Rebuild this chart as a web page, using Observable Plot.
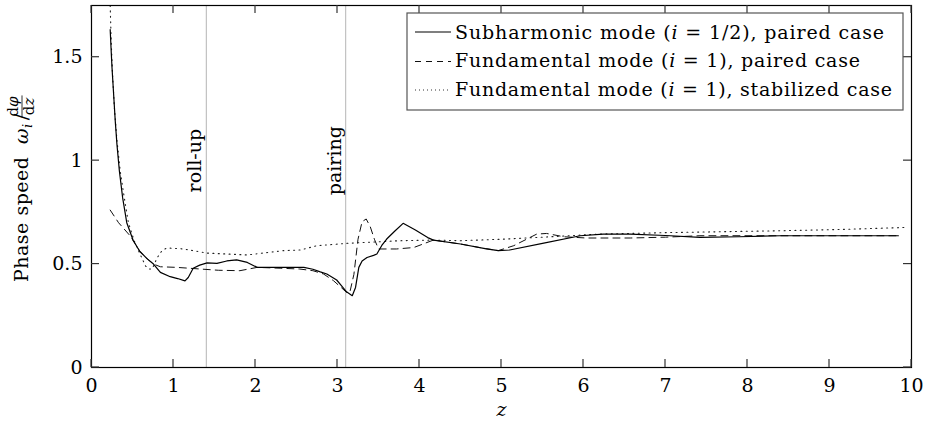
<!DOCTYPE html>
<html><head><meta charset="utf-8">
<script src="https://cdn.jsdelivr.net/npm/d3@7"></script>
<script src="https://cdn.jsdelivr.net/npm/@observablehq/plot@0.6"></script>
<style>body{margin:0;background:#fff;}</style>
</head><body><div id="chart"></div>
<script>
// Subharmonic mode (i = 1/2), paired case
const subZ = [0.228,0.24,0.25,0.27,0.29,0.31,0.34,0.38,0.43,0.51,0.59,0.68,0.756,0.84,0.96,1.05,1.14,1.18,1.24,1.32,1.41,1.53,1.65,1.77,1.90,2.02,2.34,2.59,2.70,2.79,2.87,2.99,3.05,3.11,3.18,3.22,3.26,3.30,3.36,3.44,3.48,3.54,3.60,3.70,3.80,3.95,4.10,4.17,4.50,4.80,4.96,5.10,5.50,5.96,6.24,6.57,7.0,7.42,7.9,8.4,9.0,9.84];
const subC = [1.633,1.53,1.45,1.32,1.19,1.08,0.95,0.82,0.70,0.613,0.561,0.525,0.50,0.46,0.439,0.43,0.419,0.435,0.480,0.495,0.506,0.503,0.515,0.52,0.508,0.484,0.484,0.484,0.475,0.462,0.452,0.423,0.395,0.366,0.347,0.387,0.484,0.515,0.532,0.542,0.549,0.59,0.621,0.66,0.697,0.665,0.628,0.616,0.597,0.575,0.565,0.568,0.60,0.637,0.645,0.645,0.638,0.629,0.632,0.637,0.637,0.637];
// Fundamental mode (i = 1), paired case
const funPZ = [0.228,0.33,0.47,0.53,0.59,0.68,0.756,0.84,1.04,1.33,1.55,1.81,2.02,2.30,2.54,2.70,2.83,2.95,3.05,3.11,3.15,3.20,3.25,3.30,3.35,3.40,3.45,3.50,3.72,3.93,4.17,4.50,4.80,4.96,5.15,5.43,5.55,5.76,6.04,6.57,7.0,7.42,8.4,9.84];
const funPC = [0.761,0.70,0.637,0.60,0.561,0.525,0.50,0.487,0.484,0.476,0.47,0.468,0.484,0.48,0.476,0.468,0.452,0.42,0.385,0.363,0.363,0.45,0.62,0.705,0.718,0.68,0.62,0.573,0.573,0.58,0.616,0.597,0.575,0.565,0.589,0.645,0.648,0.632,0.626,0.626,0.63,0.637,0.637,0.637];
// Fundamental mode (i = 1), stabilized case
const funSZ = [0.228,0.24,0.256,0.28,0.31,0.35,0.40,0.45,0.52,0.59,0.66,0.70,0.74,0.80,0.86,0.92,1.12,1.41,1.90,2.34,2.55,2.75,3.11,3.76,4.17,4.50,5.0,5.5,6.2,7.0,8.4,9.2,9.92];
const funSC = [1.75,1.58,1.42,1.25,1.10,0.95,0.82,0.70,0.613,0.55,0.49,0.476,0.476,0.53,0.565,0.578,0.573,0.553,0.544,0.565,0.568,0.589,0.60,0.613,0.616,0.613,0.62,0.63,0.645,0.652,0.661,0.668,0.677];

const xTicks = [0,1,2,3,4,5,6,7,8,9,10];
const yTicks = [0,0.5,1,1.5];
const yTickLabels = ["0","0.5","1","1.5"];
const events = [1.4, 3.1];
const eventLabels = ["roll-up", "pairing"];
const eventLabelY = 1.0;

const toRows = (zs, cs) => zs.map((z, i) => ({z, c: cs[i]}));
const sub = toRows(subZ, subC);
const funP = toRows(funPZ, funPC);
const funS = toRows(funSZ, funSC);

const W = 927, H = 421, mL = 91, mR = 16, mT = 5, mB = 54;
const xDom = [0, 10], yDom = [0, 1.75];
const tickLen = 8;

const svg = Plot.plot({
  width: W, height: H,
  marginLeft: mL, marginRight: mR, marginTop: mT, marginBottom: mB,
  style: {fontFamily: "DejaVu Serif", fontSize: "19px", background: "#fff", color: "#000"},
  x: {domain: xDom},
  y: {domain: yDom},
  marks: [
    Plot.ruleX(events, {x: d => d, stroke: "#b5b5b5", strokeWidth: 1}),
    Plot.text(events, {x: d => d, y: eventLabelY, text: (d, i) => eventLabels[i], rotate: -90, dx: -11, textAnchor: "middle", lineAnchor: "middle", fill: "#000", fontSize: 19}),
    Plot.line(funS, {x: "z", y: "c", stroke: "#222", strokeWidth: 1.1, strokeDasharray: "1,4.4"}),
    Plot.line(funP, {x: "z", y: "c", stroke: "#111", strokeWidth: 1, strokeDasharray: "7,5"}),
    Plot.line(sub, {x: "z", y: "c", stroke: "#000", strokeWidth: 1.2}),
    Plot.frame({stroke: "#000", strokeWidth: 1.2}),
    Plot.axisX({ticks: xTicks, tickSize: 0, tickPadding: 11, label: null, tickFormat: d => String(d), fill: "#000"}),
    Plot.axisY({ticks: yTicks, tickSize: 0, tickPadding: 9, label: null, tickFormat: (d, i) => yTickLabels[i], fill: "#000"}),
    Plot.text(["z"], {frameAnchor: "bottom", text: d => d, dy: 48, lineAnchor: "bottom", fontStyle: "italic", fill: "#000", fontSize: 19})
  ]
});
document.getElementById("chart").appendChild(svg);

const root = d3.select(svg);
// Inward tick marks on all four sides, placed with the plot's own scales
const xs = svg.scale("x"), ys = svg.scale("y");
const frameL = xs.apply(xDom[0]), frameR = xs.apply(xDom[1]);
const frameB = ys.apply(yDom[0]), frameT = ys.apply(yDom[1]);
const tg = root.append("g").attr("stroke", "#333").attr("stroke-width", 1.2);
xTicks.forEach(v => {
  const p = xs.apply(v);
  tg.append("line").attr("x1", p).attr("x2", p).attr("y1", frameB).attr("y2", frameB - tickLen);
  tg.append("line").attr("x1", p).attr("x2", p).attr("y1", frameT).attr("y2", frameT + tickLen);
});
yTicks.forEach(v => {
  const p = ys.apply(v);
  tg.append("line").attr("y1", p).attr("y2", p).attr("x1", frameL).attr("x2", frameL + tickLen);
  tg.append("line").attr("y1", p).attr("y2", p).attr("x1", frameR).attr("x2", frameR - tickLen);
});

// Y axis label (with stacked fraction)
const yl = root.append("g").attr("transform", "translate(28,282) rotate(-90)")
  .attr("font-family", "DejaVu Serif").attr("font-size", 19).attr("fill", "#000").attr("text-anchor", "start");
const t = yl.append("text").attr("x", 0).attr("y", 0).attr("letter-spacing", 0.5).attr("text-anchor", "start");
t.append("tspan").text("Phase speed ");
t.append("tspan").attr("dx", 6).attr("font-style", "italic").text("ω");
t.append("tspan").attr("dy", 4).attr("font-size", 13).attr("font-style", "italic").text("i");
t.append("tspan").attr("dy", -4).attr("dx", 3).text("/");
const L = t.node().getComputedTextLength() + 5;
const num = yl.append("text").attr("x", L + 11).attr("y", -10).attr("font-size", 15).attr("text-anchor", "middle");
num.append("tspan").text("d");
num.append("tspan").attr("font-style", "italic").text("φ");
yl.append("line").attr("x1", L).attr("x2", L + 22).attr("y1", -6).attr("y2", -6).attr("stroke", "#000").attr("stroke-width", 0.8);
const den = yl.append("text").attr("x", L + 11).attr("y", 6).attr("font-size", 15).attr("text-anchor", "middle");
den.append("tspan").text("d");
den.append("tspan").attr("font-style", "italic").text("z");

// Legend
const legendItems = [
  {pre: "Subharmonic mode (", post: " = 1/2), paired case", dash: null, w: 1.2, color: "#000", len: 429},
  {pre: "Fundamental mode (", post: " = 1), paired case", dash: "6,5", w: 1, color: "#111", len: 405},
  {pre: "Fundamental mode (", post: " = 1), stabilized case", dash: "1,3", w: 1, color: "#333", len: 437}
];
const lg = root.append("g").attr("font-family", "DejaVu Serif").attr("font-size", 19).attr("text-anchor", "start");
lg.append("rect").attr("x", 407).attr("y", 13).attr("width", 496).attr("height", 97)
  .attr("fill", "#fff").attr("stroke", "#555").attr("stroke-width", 1.2);
const rowY = [32, 61.5, 90];
const baseY = [38.5, 67, 95.5];
legendItems.forEach((it, i) => {
  lg.append("line").attr("x1", 415).attr("x2", 451).attr("y1", rowY[i]).attr("y2", rowY[i])
    .attr("stroke", it.color).attr("stroke-width", it.w).attr("stroke-dasharray", it.dash);
  const txt = lg.append("text").attr("x", 455).attr("y", baseY[i]).attr("fill", "#000")
    .attr("text-anchor", "start").attr("textLength", it.len).attr("lengthAdjust", "spacing");
  txt.append("tspan").text(it.pre);
  txt.append("tspan").attr("font-style", "italic").text("i");
  txt.append("tspan").text(it.post);
});
</script></body></html>
